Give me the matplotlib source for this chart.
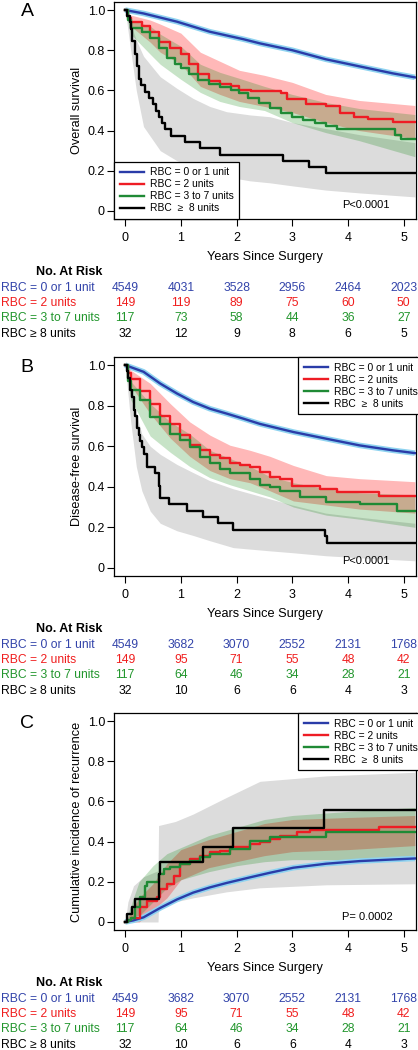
import matplotlib.pyplot as plt
from matplotlib.transforms import blended_transform_factory

plt.rcParams['font.family'] = ['Liberation Sans', 'DejaVu Sans']

# groups and colours
group_names = ['RBC = 0 or 1 unit', 'RBC = 2 units', 'RBC = 3 to 7 units', 'RBC \u2265 8 units']
legend_names = ['RBC = 0 or 1 unit', 'RBC = 2 units', 'RBC = 3 to 7 units', 'RBC  \u2265  8 units']
line_colors = ['#2a3ca8', '#ee1c24', '#1f8a35', 'black']
text_colors = ['#3344aa', '#f01e1e', '#22962d', 'black']
years = [0, 1, 2, 3, 4, 5]
follow_up = 5.2

# ---- A: overall survival ----
a_blue_t = [0, .33, .93, 1.52, 2.12, 2.42, 3.0, 3.6, 4.2, 4.8, 5.2]
a_blue_v = [1, .983, .942, .892, .855, .834, .80, .755, .72, .685, .665]
a_red_t = [0, .05, .1, .3, .45, .6, .8, 1.0, 1.15, 1.3, 1.5, 1.7, 1.9, 2.05, 2.25, 2.8, 2.9, 3.25, 3.6, 3.85, 4.1, 4.35, 4.8]
a_red_v = [1, .96, .94, .92, .89, .84, .81, .78, .73, .68, .645, .63, .62, .60, .595, .585, .555, .53, .52, .49, .47, .46, .445]
a_green_t = [0, .05, .1, .3, .45, .6, .75, .9, 1.0, 1.15, 1.3, 1.5, 1.7, 1.9, 2.05, 2.2, 2.4, 2.6, 2.8, 3.0, 3.2, 3.4, 3.6, 3.8, 4.85, 4.95]
a_green_v = [1, .95, .91, .89, .86, .81, .76, .73, .71, .68, .65, .63, .615, .60, .585, .56, .535, .51, .49, .47, .455, .44, .425, .41, .38, .36]
a_black_t = [0, .04, .08, .1, .13, .17, .21, .25, .29, .35, .42, .5, .55, .6, .66, .72, .82, 1.08, 1.35, 1.7, 2.83, 3.3, 3.6]
a_black_v = [1, .969, .938, .906, .844, .781, .719, .656, .625, .594, .563, .531, .50, .469, .438, .406, .375, .344, .313, .281, .25, .219, .188]
a_band_t = [0, .1, .45, .63, 1.0, 1.35, 1.7, 2.05, 2.5, 3.0, 3.6, 4.2, 5.2]
a_red_hi = [1, .975, .95, .93, .885, .79, .745, .70, .675, .64, .58, .55, .525]
a_red_lo = [1, .92, .84, .79, .73, .62, .58, .545, .52, .49, .44, .40, .36]
a_green_hi = [1, .95, .92, .88, .82, .73, .69, .66, .62, .58, .54, .51, .48]
a_green_lo = [1, .88, .78, .73, .655, .59, .545, .52, .50, .44, .39, .35, .27]
a_gray_t = [0, .1, .2, .33, .63, .93, 1.22, 1.52, 1.82, 2.24, 2.6, 3.0, 3.6, 4.2, 5.2]
a_gray_hi = [1, .93, .85, .77, .668, .61, .56, .52, .494, .478, .469, .44, .41, .38, .34]
a_gray_lo = [1, .80, .60, .42, .30, .25, .22, .19, .17, .15, .14, .125, .104, .09, .07]
a_risk = [[4549, 4031, 3528, 2956, 2464, 2023],
          [149, 119, 89, 75, 60, 50],
          [117, 73, 58, 44, 36, 27],
          [32, 12, 9, 8, 6, 5]]

# ---- B: disease-free survival ----
b_blue_t = [0, .33, .63, .93, 1.22, 1.52, 1.82, 2.12, 2.42, 3.02, 3.61, 4.21, 4.8, 5.2]
b_blue_v = [1, .967, .909, .86, .818, .785, .761, .736, .71, .67, .637, .604, .58, .566]
b_red_t = [0, .05, .1, .27, .45, .63, .81, .99, 1.16, 1.34, 1.52, 1.7, 1.88, 2.06, 2.24, 2.42, 2.6, 2.78, 3.0, 3.5, 3.8, 4.56]
b_red_v = [1, .96, .93, .87, .81, .75, .71, .655, .605, .58, .555, .54, .515, .505, .497, .475, .45, .44, .405, .39, .375, .355]
b_green_t = [0, .05, .1, .27, .45, .63, .81, .99, 1.16, 1.34, 1.52, 1.7, 1.88, 2.24, 2.42, 2.6, 2.78, 3.14, 3.61, 4.21, 4.88]
b_green_v = [1, .92, .875, .83, .745, .71, .66, .63, .595, .545, .515, .49, .47, .44, .41, .40, .38, .35, .325, .315, .28]
b_black_t = [0, .03, .06, .09, .12, .15, .18, .21, .24, .27, .3, .33, .39, .54, .6, .63, .78, 1.11, 1.4, 1.67, 1.94, 3.58, 3.62]
b_black_v = [1, .969, .938, .875, .844, .781, .75, .688, .656, .625, .594, .563, .50, .469, .406, .344, .313, .281, .25, .219, .188, .156, .125]
b_band_t = [0, .1, .45, .81, 1.16, 1.52, 1.88, 2.24, 2.6, 3.02, 3.61, 4.21, 5.2]
b_red_hi = [1, .975, .91, .81, .72, .655, .605, .58, .55, .505, .455, .44, .425]
b_red_lo = [1, .90, .76, .64, .55, .48, .44, .42, .38, .33, .31, .29, .27]
b_green_hi = [1, .92, .81, .72, .66, .58, .54, .50, .45, .42, .39, .37, .36]
b_green_lo = [1, .83, .65, .57, .50, .445, .41, .38, .35, .30, .26, .24, .20]
b_gray_t = [0, .1, .2, .3, .45, .63, .93, 1.22, 1.52, 1.94, 2.6, 3.0, 3.6, 4.2, 5.2]
b_gray_hi = [1, .90, .76, .66, .60, .56, .51, .47, .43, .39, .34, .31, .27, .25, .22]
b_gray_lo = [1, .72, .50, .38, .28, .22, .183, .16, .134, .10, .084, .075, .06, .05, .035]
b_risk = [[4549, 3682, 3070, 2552, 2131, 1768],
          [149, 95, 71, 55, 48, 42],
          [117, 64, 46, 34, 28, 21],
          [32, 10, 6, 6, 4, 3]]

# ---- C: cumulative incidence of recurrence ----
c_blue_t = [0, .15, .33, .63, .93, 1.22, 1.52, 1.82, 2.24, 2.6, 3.02, 3.61, 4.21, 4.8, 5.2]
c_blue_v = [0, .008, .023, .07, .112, .146, .172, .194, .222, .245, .27, .29, .303, .311, .316]
c_red_t = [0, .05, .1, .27, .39, .57, .63, .75, .87, .99, 1.16, 1.34, 1.52, 1.7, 1.88, 2.24, 2.42, 2.6, 2.78, 3.08, 3.32, 4.56]
c_red_v = [0, .01, .02, .073, .106, .123, .164, .19, .23, .29, .313, .33, .347, .355, .372, .388, .40, .413, .43, .446, .458, .471]
c_green_t = [0, .05, .1, .18, .27, .36, .39, .6, .69, .81, .99, 1.16, 1.34, 1.52, 1.88, 2.24, 2.6, 3.6]
c_green_v = [0, .01, .02, .073, .123, .18, .197, .239, .264, .272, .289, .305, .322, .338, .363, .404, .421, .446]
c_black_t = [0, .04, .13, .17, .6, .63, 1.4, 1.94, 3.56]
c_black_v = [0, .04, .073, .114, .239, .297, .375, .468, .557]
c_band_t = [0, .25, .5, .75, 1.0, 1.5, 2.0, 2.5, 3.0, 4.0, 5.2]
c_red_hi = [0, .12, .19, .29, .36, .41, .45, .49, .51, .52, .53]
c_red_lo = [0, 0, .06, .12, .21, .27, .30, .33, .35, .36, .38]
c_green_hi = [0, .20, .28, .34, .37, .43, .47, .51, .53, .55, .57]
c_green_lo = [0, .03, .10, .17, .21, .25, .28, .30, .31, .31, .31]
c_gray_t = [0, .05, .15, .33, .59, .6, .9, 1.22, 1.82, 2.42, 3.61, 5.2]
c_gray_hi = [0, .10, .18, .225, .255, .48, .50, .537, .62, .70, .727, .745]
c_gray_lo = [0, 0, 0, 0, 0, .08, .10, .12, .15, .17, .185, .19]
c_risk = [[4549, 3682, 3070, 2552, 2131, 1768],
          [149, 95, 71, 55, 48, 42],
          [117, 64, 46, 34, 28, 21],
          [32, 10, 6, 6, 4, 3]]

panels = [
    dict(letter='A', ylabel='Overall survival', pval='P<0.0001', pxy=(4.32, 0.03),
         top=2, bottom=219, legend='lower',
         curves=[(a_blue_t, a_blue_v), (a_red_t, a_red_v), (a_green_t, a_green_v), (a_black_t, a_black_v)],
         bands=[(a_gray_t, a_gray_lo, a_gray_hi), (a_band_t, a_red_lo, a_red_hi), (a_band_t, a_green_lo, a_green_hi)],
         risk=a_risk),
    dict(letter='B', ylabel='Disease-free survival', pval='P<0.0001', pxy=(4.32, 0.035),
         top=357, bottom=576, legend='upper',
         curves=[(b_blue_t, b_blue_v), (b_red_t, b_red_v), (b_green_t, b_green_v), (b_black_t, b_black_v)],
         bands=[(b_gray_t, b_gray_lo, b_gray_hi), (b_band_t, b_red_lo, b_red_hi), (b_band_t, b_green_lo, b_green_hi)],
         risk=b_risk),
    dict(letter='C', ylabel='Cumulative incidence of recurrence', pval='P= 0.0002', pxy=(4.35, 0.025),
         top=713, bottom=930, legend='upper',
         curves=[(c_blue_t, c_blue_v), (c_red_t, c_red_v), (c_green_t, c_green_v), (c_black_t, c_black_v)],
         bands=[(c_gray_t, c_gray_lo, c_gray_hi), (c_band_t, c_red_lo, c_red_hi), (c_band_t, c_green_lo, c_green_hi)],
         risk=c_risk),
]

W, H = 418, 1050
fig = plt.figure(figsize=(W / 100, H / 100), dpi=100)
band_colors = [('#dcdcdc', 1.0), ('#ff0000', 0.28), ('#008000', 0.22)]
left_px, right_px = 114, 416

for p in panels:
    ax = fig.add_axes([left_px / W, 1 - p['bottom'] / H, (right_px - left_px) / W, (p['bottom'] - p['top']) / H])
    ax.set_xlim(-0.2, 5.22)
    ax.set_ylim(-0.04, 1.04)

    # confidence bands
    for (t, lo, hi), (col, al) in zip(p['bands'], band_colors):
        ax.fill_between(t, lo, hi, color=col, alpha=al, lw=0, zorder=1)

    # blue group: smooth curve with thin light-blue band behind
    bt, bv = p['curves'][0]
    ax.plot(bt, bv, color='#8fd3f0', lw=4, zorder=2, solid_capstyle='butt')
    ax.plot(bt, bv, color=line_colors[0], lw=1.7, zorder=3, label=legend_names[0])
    for (t, v), col, name in zip(p['curves'][1:], line_colors[1:], legend_names[1:]):
        ax.step(list(t) + [follow_up], list(v) + [v[-1]], where='post', color=col,
                lw=1.7, zorder=3, label=name)

    ax.set_xticks(years)
    ax.set_yticks([0, 0.2, 0.4, 0.6, 0.8, 1.0])
    ax.set_yticklabels(['0', '0.2', '0.4', '0.6', '0.8', '1.0'])
    ax.tick_params(axis='both', direction='out', length=5, width=0.8, labelsize=9)
    ax.tick_params(axis='x', pad=4)
    ax.tick_params(axis='y', pad=1.5)
    for s in ax.spines.values():
        s.set_linewidth(0.9)

    ax.set_ylabel(p['ylabel'], fontsize=9.2, va='center')
    ax.yaxis.set_label_coords((77 - left_px) / (right_px - left_px), 0.5)

    ax.text(p['pxy'][0], p['pxy'][1], p['pval'], ha='center', va='center', fontsize=8)

    if p['legend'] == 'lower':
        loc, anchor = 'lower left', (0, 0)
    else:
        loc, anchor = 'upper left', ((298 - left_px) / (right_px - left_px), 1.0)
    leg = ax.legend(loc=loc, bbox_to_anchor=anchor, borderaxespad=0,
                    fontsize=7.4, fancybox=False, edgecolor='black', framealpha=1,
                    handlelength=2.4, handletextpad=0.55, labelspacing=0.2, borderpad=0.55)
    leg.get_frame().set_linewidth(0.9)
    leg.set_zorder(10)

    # panel letter
    fig.text(27 / W, 1 - (p['top'] + 10) / H, p['letter'], fontsize=14, ha='center', va='center')

    # table under the axis
    b = p['bottom']
    tr = blended_transform_factory(ax.transData, fig.transFigure)
    fig.text((left_px + right_px) / 2 / W, 1 - (b + 38) / H, 'Years Since Surgery',
             fontsize=9.2, ha='center', va='center')
    fig.text(69 / W, 1 - (b + 53) / H, 'No. At Risk', fontsize=9, fontweight='bold',
             ha='center', va='center')
    for i, (name, col, row) in enumerate(zip(group_names, text_colors, p['risk'])):
        y = 1 - (b + 69 + 15.2 * i) / H
        fig.text(1 / W, y, name, color=col, fontsize=8.7, ha='left', va='center')
        for yr, n in zip(years, row):
            ax.text(yr, y, str(n), transform=tr, color=col, fontsize=8.7,
                    ha='center', va='center', clip_on=False)

fig.savefig('out.png', dpi=100)
